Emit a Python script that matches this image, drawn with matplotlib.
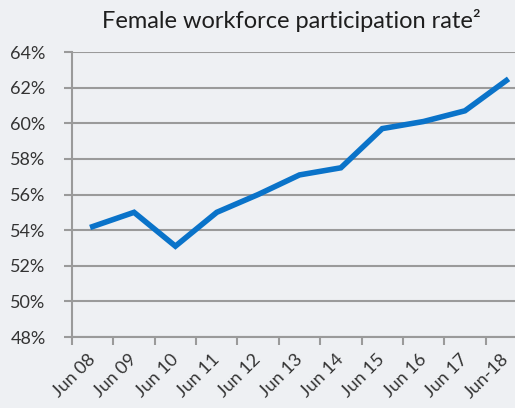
import matplotlib.pyplot as plt
from matplotlib.ticker import FixedLocator, PercentFormatter
from matplotlib.transforms import ScaledTranslation

plt.rcParams['font.family'] = ['Lato', 'DejaVu Sans']

labels = ["Jun 08", "Jun 09", "Jun 10", "Jun 11", "Jun 12", "Jun 13",
          "Jun 14", "Jun 15", "Jun 16", "Jun 17", "Jun-18"]
rate = [54.2, 55.0, 53.1, 55.0, 56.0, 57.1, 57.5, 59.7, 60.1, 60.7, 62.4]
yticks = [48, 50, 52, 54, 56, 58, 60, 62, 64]

bg = "#eef0f3"
fig = plt.figure(figsize=(5.15, 4.08), dpi=100, facecolor=bg)
ax = fig.add_axes([0.1398, 0.174, 0.8835, 0.6985], facecolor=bg)

x = range(len(labels))
ax.plot(x, rate, color="#0a73c9", linewidth=4, solid_joinstyle="miter", zorder=3)

ax.set_xlim(-0.5, len(labels) - 0.5)
ax.set_ylim(48, 64)
ax.set_yticks(yticks)
ax.yaxis.set_major_formatter(PercentFormatter(decimals=0))
ax.grid(axis="y", color="#9a9a9a", linewidth=1.5)
ax.set_axisbelow(True)

ax.set_xticks(list(x))
ax.set_xticklabels(labels, rotation=45, ha="right", rotation_mode="anchor")
ax.xaxis.set_minor_locator(FixedLocator([i - 0.5 for i in range(len(labels) + 1)]))
ax.tick_params(axis="x", which="major", length=0, pad=10, labelsize=13, labelcolor="#333333")
ax.tick_params(axis="x", which="minor", length=6, width=1.5, color="#9a9a9a")
ax.tick_params(axis="y", length=6, width=1.5, color="#9a9a9a", labelsize=13,
               labelcolor="#333333", pad=13)

# nudge x labels a little left so the last one stays inside the figure
shift = ScaledTranslation(-4 / 72, 0, fig.dpi_scale_trans)
for t in ax.get_xticklabels():
    t.set_transform(t.get_transform() + shift)

for side in ["top", "right"]:
    ax.spines[side].set_visible(False)
for side in ["left", "bottom"]:
    ax.spines[side].set_color("#9a9a9a")
    ax.spines[side].set_linewidth(1.5)

fig.text(0.565, 0.95, "Female workforce participation rate²", ha="center", va="center",
         fontsize=17, color="#1e1e1e")

fig.savefig("out.png", dpi=100, facecolor=bg)
